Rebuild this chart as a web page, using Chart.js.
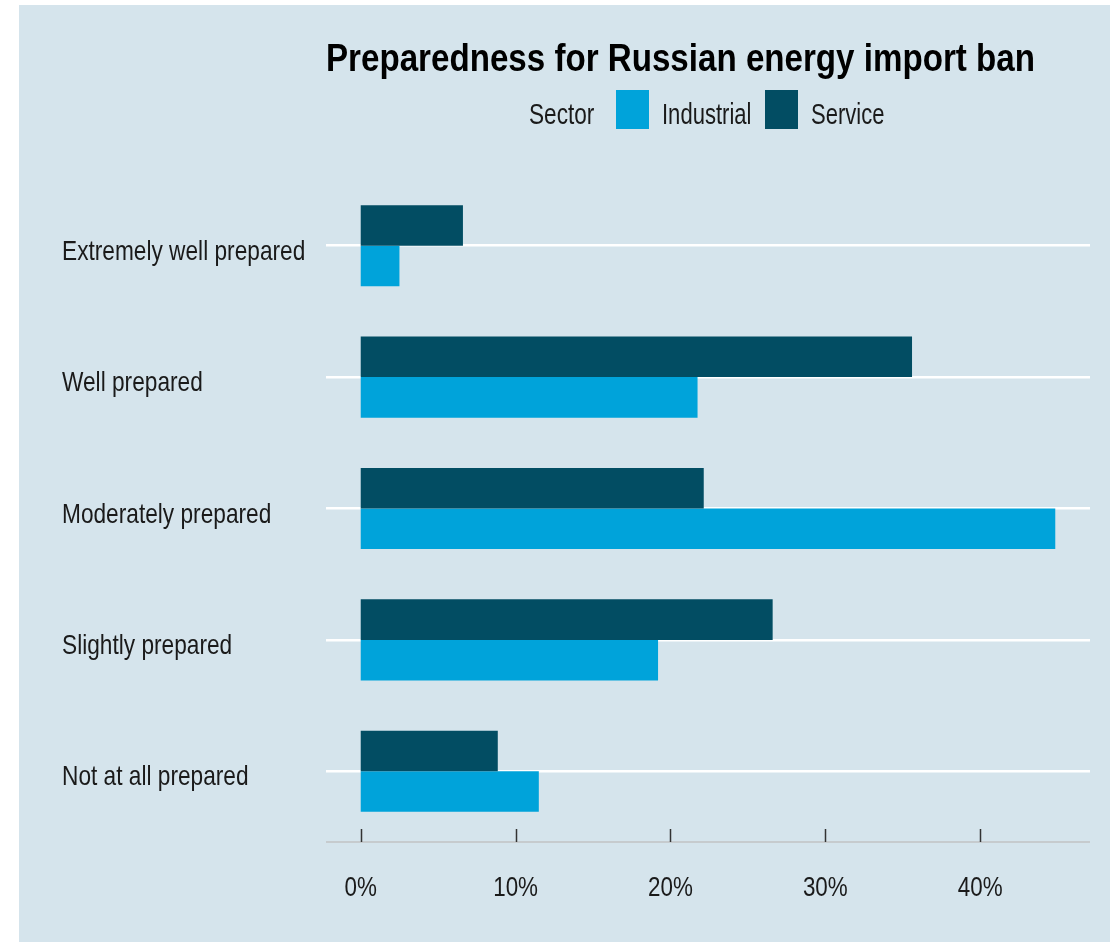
<!DOCTYPE html>
<html>
<head>
<meta charset="utf-8">
<script src="https://cdn.jsdelivr.net/npm/chart.js@4.4.1/dist/chart.umd.min.js"></script>
<style>
  html, body { margin: 0; padding: 0; background: #ffffff; }
  body { width: 1110px; height: 942px; position: relative; overflow: hidden; }
  #panel { position: absolute; left: 19px; top: 5px; width: 1091px; height: 937px; background: #d5e4ec; }
  #wrap { position: absolute; left: 0; top: 0; width: 1110px; height: 942px; }
</style>
</head>
<body>
<div id="panel"></div>
<div id="wrap"><canvas id="chart" width="1110" height="942"></canvas></div>
<script>
const categories = ['Extremely well prepared', 'Well prepared', 'Moderately prepared', 'Slightly prepared', 'Not at all prepared'];
const industrial = [2.5, 21.75, 44.85, 19.2, 11.5];
const service = [6.6, 35.6, 22.15, 26.6, 8.85];
const tickValues = [0, 10, 20, 30, 40];
const tickLabels = ['0%', '10%', '20%', '30%', '40%'];
const legendTitle = 'Sector';
const legendOrder = ['Industrial', 'Service'];
const chartTitle = 'Preparedness for Russian energy import ban';

const colors = { Industrial: '#00a3da', Service: '#024d63' };
const FONT = "'Liberation Sans', Arial, sans-serif";

// ggplot-like padding around the data range
const dataMax = Math.max(...industrial, ...service);
const pad = dataMax * 0.05;

// condensed text: squeeze a regular face horizontally
function narrowText(ctx, text, x, y, size, align, opts = {}) {
  const squeeze = opts.squeeze || 0.8;
  ctx.save();
  ctx.font = (opts.bold ? 'bold ' : '') + size + 'px ' + FONT;
  ctx.fillStyle = opts.color || '#1a1a1a';
  ctx.textBaseline = 'alphabetic';
  ctx.textAlign = align;
  ctx.translate(x, y);
  ctx.scale(squeeze, 1);
  ctx.fillText(text, 0, 0);
  ctx.restore();
}

const decorations = {
  id: 'decorations',
  afterDatasetsDraw(chart) {
    const { ctx, chartArea } = chart;
    const x = chart.scales.x;
    const y = chart.scales.y;

    // baseline with upward tick marks under the last band
    const y0 = chartArea.bottom + 5;
    ctx.save();
    ctx.strokeStyle = '#c6cbce';
    ctx.lineWidth = 2;
    ctx.beginPath();
    ctx.moveTo(chartArea.left, y0);
    ctx.lineTo(chartArea.right, y0);
    ctx.stroke();
    ctx.strokeStyle = '#333333';
    ctx.lineWidth = 1.5;
    tickValues.forEach(v => {
      const px = Math.round(x.getPixelForValue(v)) + 0.5;
      ctx.beginPath();
      ctx.moveTo(px, y0 - 13);
      ctx.lineTo(px, y0);
      ctx.stroke();
    });
    ctx.restore();

    // x tick labels
    tickValues.forEach((v, i) => {
      narrowText(ctx, tickLabels[i], x.getPixelForValue(v), 896, 28, 'center');
    });

    // category labels, left aligned
    categories.forEach((c, i) => {
      narrowText(ctx, c, 62, y.getPixelForTick(i) + 14, 28, 'left', { squeeze: 0.81 });
    });

    // title
    narrowText(ctx, chartTitle, 326, 71, 38, 'left', { bold: true, color: '#000000', squeeze: 0.872 });

    // legend row: title, then swatch + name per series
    narrowText(ctx, legendTitle, 529, 124, 29, 'left', { squeeze: 0.78 });
    const swatchX = [616, 765];
    legendOrder.forEach((name, i) => {
      ctx.fillStyle = colors[name];
      ctx.fillRect(swatchX[i], 90, 33, 39);
      narrowText(ctx, name, swatchX[i] + 46, 124, 29, 'left', { squeeze: 0.76 });
    });
  }
};

new Chart(document.getElementById('chart'), {
  type: 'bar',
  data: {
    labels: categories,
    datasets: [
      { label: 'Service', data: service, backgroundColor: colors.Service },
      { label: 'Industrial', data: industrial, backgroundColor: colors.Industrial }
    ]
  },
  options: {
    indexAxis: 'y',
    responsive: false,
    animation: false,
    categoryPercentage: 0.617,
    barPercentage: 1,
    layout: { padding: { left: 63, right: 20, top: 180, bottom: 45 } },
    plugins: {
      legend: { display: false },
      tooltip: { enabled: false }
    },
    scales: {
      x: {
        type: 'linear',
        min: -pad,
        max: dataMax + pad,
        grid: { display: false },
        border: { display: false },
        afterBuildTicks: s => { s.ticks = tickValues.map(v => ({ value: v })); },
        ticks: { display: false },
        afterFit: s => { s.height = 60; }
      },
      y: {
        grid: { color: '#ffffff', lineWidth: 2.5, offset: false, drawTicks: false },
        border: { display: false },
        ticks: { display: false },
        afterFit: s => { s.width = 326 - 63; }
      }
    }
  },
  plugins: [decorations]
});
</script>
</body>
</html>
